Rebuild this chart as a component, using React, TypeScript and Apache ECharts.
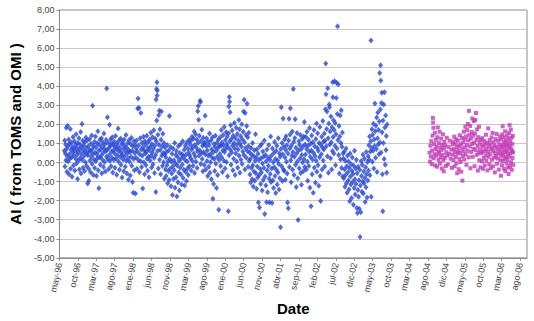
import React, { useEffect, useRef } from "react";
import * as echarts from "echarts";

// x value = days since start of axis (may-96); one label every 150 days
const xLabels = ["may-96","oct-96","mar-97","ago-97","ene-98","jun-98","nov-98","mar-99","ago-99","ene-00","jun-00","nov-00","abr-01","sep-01","feb-02","jul-02","dic-02","may-03","oct-03","mar-04","ago-04","dic-04","may-05","oct-05","mar-06","ago-06"];

const toms1996_98: [number, number][] = [
[40,0.62],[43,1.15],[45,-0.21],[48,0.48],[51,0.95],[53,0.12],[56,1.82],[59,0.71],[61,-0.48],[64,0.33],[67,1.93],[70,0.87],[72,0.05],[75,1.21],[78,-0.62],[80,0.44],[83,0.98],[86,0.21],[89,1.76],[91,-0.33],[94,0.67],[97,1.05],[100,0.28],[103,-0.74],[105,0.81],[108,0.52],[111,1.34],[114,-0.15],[117,0.73],[119,0.36],[122,1.12],[125,-0.42],[128,0.6],[131,0.93],[134,0.18],[136,1.48],[139,-0.05],[142,0.77],[145,0.41],[148,-0.86],[150,1.02],[153,0.57],[156,0.09],[159,1.27],[162,-0.37],[164,0.69],[167,0.95],[170,0.24],[173,1.6],[176,-0.58],[178,0.46],[181,0.82],[184,2.02],[187,0.15],[190,1.14],[192,-0.27],[195,0.63],
[198,0.91],[201,0.34],[204,-0.44],[207,1.08],[210,0.55],[212,0.02],[215,1.31],[218,0.76],[221,-0.18],[224,0.49],[227,1.17],[230,-1.1],[232,0.38],[235,0.85],[238,-0.32],[240,-0.95],[243,0.64],[246,1.23],[249,0.11],[252,0.58],[254,-0.51],[257,0.99],[260,0.3],[263,1.42],[266,-0.08],[268,0.71],[270,2.98],[273,0.45],[276,-0.66],[279,0.88],[282,0.16],[285,1.09],[287,-0.29],[290,0.53],[293,1.36],[296,0.07],[299,0.79],[302,-0.71],[305,0.42],[308,1.01],[310,0.22],[313,1.64],[316,-0.4],[319,0.61],[321,-1.35],[324,0.93],[327,0.27],[330,1.19],[333,-0.12],[336,0.68],[339,0.35],[342,1.28],[345,-0.56],[348,0.84],[350,0.14],[353,1.07],[356,0.5],[359,-0.23],[362,1.52],[365,0.72],[368,0.03],[371,0.96],[374,-0.47],[377,0.59],[380,1.2],[383,0.31],[385,3.88],
[388,0.66],[391,2.38],[394,0.17],[397,1.04],[400,-0.35],[403,0.78],[406,0.4],[408,1.98],[411,0.09],[414,0.87],[417,1.22],[420,-0.19],[423,0.56],[426,0.98],[428,0.25],[431,1.33],[434,-0.52],[437,0.63],[440,0.92],[443,0.14],[446,1.1],[449,0.47],[452,-0.27],[454,0.82],[457,1.39],[460,0.2],[463,0.7],[466,-0.64],[469,1.02],[472,0.38],[475,0.85],[478,1.78],[481,0.06],[484,0.61],[486,1.15],[489,-0.38],[492,0.74],[495,0.29],[498,1.26],[501,-0.11],[504,0.53],[507,0.94],[510,-0.79],[512,0.41],[515,1.07],[518,0.16],[521,0.72],[524,-0.46],[527,1.21],[530,0.33],[533,0.88],[536,-0.22],[539,0.58],[542,1.45],[544,0.1],[547,0.79],[550,-0.57],[553,0.47],[556,1.03],[559,0.23],[562,-0.9],[565,0.66],[568,1.18],[571,0.04],[574,0.55],[577,-0.68],[580,0.97],[583,0.3],[586,1.3],[589,-0.17],[592,0.62],[595,-1.02],[598,0.86],[601,-1.58],[604,0.19],[607,1.11],[610,-0.41],[613,0.5],[616,0.92],[619,-1.62],[622,0.26],[625,0.74],
[628,1.16],[631,-0.33],[634,0.58],[637,2.84],[640,3.36],[642,0.13],[645,0.9],[648,2.86],[651,-0.5],[654,0.44],[657,1.27],[660,0.07],[663,2.6],[666,0.69],[669,-0.24],[672,1.04],[675,0.36],[678,-1.36],[681,0.81],[684,1.35],[687,0.02],[690,0.63],[693,-0.61],[696,1.12],[699,0.48],[702,0.95],[705,-0.14],[708,0.57],[711,1.41],[714,0.2],[717,-0.43],[720,0.76],[723,1.08],[726,0.31],[729,-0.77],[732,0.64],[735,1.21],[738,0.11],[741,0.83],[744,1.56],
[747,0.35],[750,-0.26],[753,0.97],[756,0.52],[759,1.32],[762,-0.09],[765,0.71],[768,1.69],[771,0.24],[774,-0.55],[777,0.88],[780,1.25],[783,0.4],[785,-1.55],[787,3.31],[789,1.1],[790,3.86],[792,2.21],[794,4.21],[795,3.52],[797,3.78],[799,0.61],[802,1.46],[805,-0.31],[808,2.48],[810,0.93],[813,2.71],[815,0.15],[818,1.74],[821,0.66],[824,-0.62],[827,1.19],[830,2.68],[833,0.37],[836,0.85],[839,-0.18],[842,1.51],[845,0.5],[848,0.02],[851,1.03],[854,-0.85],[857,0.43],[860,0.79],[863,-0.36]
];

const toms1999_00: [number, number][] = [
[866,0.28],[869,-0.71],[872,0.55],[875,-0.14],[878,0.92],[881,-1.08],[884,0.07],[887,-0.45],[890,0.63],[893,-0.92],[896,2.44],[899,0.18],[902,-0.33],[905,0.81],[908,-1.25],[911,0.04],[914,-0.58],[917,0.46],[920,-1.7],[923,-0.21],[926,0.72],[929,-0.86],[932,0.12],[935,-0.4],[938,1.02],[941,-1.32],[944,-0.05],[947,0.39],[950,-0.77],[953,0.6],[956,-1.78],[959,-0.16],[962,0.29],[965,-1.04],[968,0.85],[971,-0.52],[974,0.08],[977,-1.46],[980,0.5],[983,-0.27],[986,0.96],[989,-0.63],[992,0.21],[995,-1.15],[998,0.44],[1001,-0.1],[1004,1.12],[1007,-0.81],[1010,0.33],[1013,-0.38],[1016,0.67],[1019,-1.21],[1022,0.15],[1025,0.88],[1028,-0.49],[1031,0.41],[1034,-0.97],[1037,1.05],[1040,0.06],[1043,-0.31],[1046,0.74],[1049,-0.66],[1052,0.52],[1055,1.18],[1058,-0.2],[1061,0.37],[1064,0.95],
[1067,0.23],[1070,1.14],[1073,-0.42],[1076,0.68],[1079,1.35],[1082,0.1],[1085,0.81],[1088,-0.17],[1091,1.26],[1094,0.47],[1097,1.63],[1100,-0.55],[1103,0.92],[1106,0.31],[1109,1.48],[1112,0.04],[1115,0.77],[1118,1.21],[1121,-0.29],[1124,0.59],[1126,2.69],[1129,1.02],[1131,2.96],[1133,2.24],[1136,0.36],[1139,1.41],[1142,0.65],[1145,3.24],[1148,3.18],[1150,-0.08],[1153,1.13],[1156,0.49],[1159,1.72],[1162,0.19],[1165,0.88],[1168,-0.46],[1171,1.3],[1174,0.55],[1177,0.97],[1180,-0.13],[1183,1.05],
[1186,2.45],[1189,0.42],[1192,-0.37],[1195,0.86],[1198,1.27],[1201,0.08],[1204,0.63],[1207,-0.71],[1210,1.09],[1213,0.35],[1216,-0.22],[1219,0.91],[1222,1.52],[1225,-0.53],[1228,0.44],[1231,0.02],[1234,1.16],[1237,-0.88],[1240,0.7],[1243,0.26],[1246,1.33],[1249,-1.9],[1252,0.54],[1255,-1.12],[1258,0.97],[1261,0.18],[1264,-0.44],[1267,0.82],[1270,1.4],[1273,-0.06],[1276,0.61],[1279,-1.33],[1282,1.04],[1285,0.3],[1288,-0.65],[1291,0.76],[1294,1.21],[1297,-2.48],[1300,0.13],[1303,0.89],
[1306,0.45],[1309,1.32],[1312,-0.18],[1315,0.88],[1318,1.71],[1321,0.27],[1324,1.05],[1327,-0.49],[1330,0.63],[1333,1.44],[1336,0.91],[1339,0.1],[1342,1.86],[1345,0.55],[1348,-0.31],[1351,1.18],[1354,0.72],[1357,1.59],[1360,0.03],[1363,0.96],[1366,1.37],[1369,-0.72],[1372,0.81],[1375,-2.55],[1377,1.53],[1379,2.94],[1381,0.38],[1383,3.44],[1385,3.19],[1387,1.12],[1389,2.64],[1391,0.67],[1394,1.95],[1397,-0.12],[1400,1.24],[1403,0.52],[1406,1.68],[1409,0.89],[1412,-0.4],[1415,1.41],[1418,0.2],[1421,1.03],[1424,2.08],[1427,0.74],[1430,-0.65],[1433,1.29],[1436,0.47],[1439,1.82],[1442,0.06],[1445,0.93],[1448,1.5],[1451,-0.27],[1454,0.69],[1457,1.16],[1460,2.23],[1463,0.35],[1466,1.74],[1469,-0.53],[1472,0.98],[1475,1.38],[1478,0.14],[1481,0.84],[1484,2.01],[1487,-0.08],[1490,1.21],[1493,0.58],[1496,1.62],[1499,2.68],[1502,0.39],[1504,3.29],[1507,1.07],[1510,-0.36],[1512,2.6],[1515,0.76],[1518,1.45],[1521,0.25],[1524,1.91],[1527,3.08],[1530,0.61],[1533,1.33],[1536,-0.22],[1539,0.87],[1542,1.56],[1545,0.1]
];

const toms2001_02: [number, number][] = [
[1548,0.52],[1551,-0.63],[1554,0.18],[1557,-1.05],[1560,0.76],[1563,-0.29],[1566,0.41],[1569,-0.88],[1572,1.02],[1575,-0.14],[1578,-1.26],[1581,0.33],[1584,-0.47],[1587,0.65],[1590,-0.95],[1593,0.09],[1596,1.48],[1599,-0.56],[1602,0.27],[1605,-1.38],[1608,0.7],[1611,-0.21],[1614,-0.79],[1617,0.46],[1620,-2.1],[1623,0.12],[1626,-0.66],[1629,-2.36],[1632,0.85],[1635,-0.34],[1638,-1.12],[1641,0.23],[1644,-0.52],[1647,0.97],[1650,-1.47],[1653,-0.05],[1656,0.58],[1659,-0.91],[1662,0.31],[1665,-0.28],[1668,1.15],[1671,-2.7],[1674,-0.73],[1677,0.4],[1680,-1.2],[1683,0.07],[1686,-2.08],[1689,0.69],[1692,-0.42],[1695,-1.56],[1698,0.26],[1701,-0.17],[1704,0.92],[1707,-0.85],[1710,-2.1],[1713,0.15],[1716,-0.6],[1719,1.36],[1722,-1.02],[1725,0.36],[1728,-0.31],[1731,-2.12],[1734,0.74],[1737,-0.94],[1740,0.02],[1743,-1.33],[1746,0.5],[1749,-0.25],[1752,1.08],[1755,-0.7],[1758,0.19],[1761,-1.6],[1764,0.62],[1767,-0.39],[1770,0.88],[1773,-1.15],[1776,0.11],[1779,-0.52],[1782,1.27],[1785,-0.08],[1788,-1.41],[1791,0.47],[1794,-0.83],[1797,0.3],[1800,-3.4],[1803,0.71],[1806,2.9],[1809,-0.2],[1812,1.02],[1815,-0.97],[1818,0.44],[1821,2.31],[1824,-0.36],
[1827,0.83],[1830,-0.44],[1833,1.21],[1836,0.27],[1839,-0.9],[1842,0.66],[1845,1.38],[1848,0.04],[1851,0.91],[1854,-0.57],[1857,-2.1],[1860,0.48],[1863,-2.4],[1866,1.16],[1869,2.29],[1872,-0.23],[1875,0.74],[1878,1.47],[1880,2.85],[1883,0.12],[1886,-1.04],[1889,0.89],[1892,0.36],[1895,1.63],[1898,-0.38],[1901,0.55],[1904,3.86],[1907,1.08],[1910,-0.66],[1913,0.31],[1916,1.29],[1919,2.27],[1922,-0.12],[1925,0.78],[1928,-1.28],[1931,0.47],[1934,1.55],[1937,0.06],[1940,-0.82],[1943,-3.02],[1946,0.63],[1949,1.11],[1952,-0.3],[1955,0.92],[1958,0.21],[1961,1.44],[1964,-0.55],[1967,0.7],[1970,-1.17],[1973,0.39],[1976,1.23],[1979,0.0],[1982,0.84],[1985,-0.46],[1988,1.36],[1991,0.17],[1994,2.12],[1997,-0.24],[2000,0.95],
[2003,0.42],[2006,1.34],[2009,-0.37],[2012,0.71],[2015,1.62],[2018,0.05],[2021,-0.95],[2024,0.88],[2027,1.19],[2030,-0.18],[2033,0.57],[2036,1.81],[2039,-1.32],[2042,0.3],[2045,0.99],[2048,-2.29],[2051,0.63],[2054,1.42],[2057,-0.62],[2060,0.16],[2063,1.07],[2066,-1.58],[2069,0.5],[2072,1.71],[2075,-0.27],[2078,0.85],[2081,0.34],[2084,-1.06],[2087,1.24],[2090,0.09],[2093,2.05],[2096,-0.48],[2099,0.76],[2102,1.53],[2105,-0.14],[2108,0.62],[2111,-1.22],[2114,1.02],[2117,0.28],[2120,1.86],[2123,-0.71],[2126,-2.02],[2129,0.93],[2132,0.44],[2135,1.35],[2138,-0.36],[2141,0.79],[2144,2.18],[2147,0.11],[2150,1.09],
[2153,0.68],[2156,1.52],[2159,-0.21],[2162,1.14],[2165,2.79],[2168,5.19],[2170,3.58],[2172,0.86],[2175,1.76],[2178,2.68],[2181,0.33],[2184,3.9],[2187,1.28],[2190,-0.54],[2193,2.05],[2196,3.04],[2198,2.9],[2201,0.95],[2204,1.63],[2207,0.22],[2210,2.41],[2213,1.07],[2216,-0.36],[2219,1.85],[2222,0.61],[2224,4.21],[2226,3.42],[2228,1.34],[2231,2.22],[2234,0.47],[2237,1.71],[2240,4.26],[2242,0.88],[2245,2.08],[2248,-0.14],[2251,1.49],[2254,3.38],[2256,4.19],[2259,0.73],[2262,2.55],[2264,7.15],[2267,1.18],[2270,4.1],[2273,0.4],[2276,1.92],[2279,-0.58],[2282,1.36],[2285,2.47],[2288,0.16],[2291,1.02],[2294,2.74],[2297,-0.29],[2300,0.83],[2303,1.57],[2306,-0.73],[2309,0.48]
];

const toms2003: [number, number][] = [
[2312,0.21],[2315,-0.82],[2318,0.57],[2321,-0.35],[2324,-1.27],[2327,0.1],[2330,-0.66],[2333,0.74],[2336,-1.09],[2339,-0.2],[2342,-1.58],[2345,0.36],[2348,-0.51],[2351,-0.94],[2354,0.05],[2357,-1.41],[2360,-0.28],[2363,-2.03],[2366,0.48],[2369,-0.73],[2372,-1.15],[2375,-0.09],[2378,-1.86],[2381,-0.44],[2384,0.27],[2387,-1.02],[2390,-0.6],[2393,-2.21],[2396,-0.17],[2399,-1.34],[2402,0.62],[2405,-0.87],[2408,-1.68],[2411,-0.31],[2414,-1.12],[2417,0.14],[2420,-2.38],[2423,-0.56],[2426,-2.65],[2429,-1.44],[2432,-0.22],[2435,-1.79],[2438,-0.93],[2441,-2.42],[2444,-0.38],[2447,-3.9],[2450,-1.21],[2453,-2.61],[2456,0.08],[2459,-0.7],[2462,-1.53],[2465,-0.12],[2468,-0.99],[2471,0.41],[2474,-1.62],[2477,-0.47],[2480,-1.08],[2483,0.2],[2486,-0.81],[2489,-2.07],[2492,-0.25],[2495,-1.3],[2498,0.55],[2501,-0.62],[2504,-1.83],[2507,0.03],[2510,-0.94],
[2513,0.33],[2516,-0.42],[2519,0.91],[2522,0.15],[2525,1.37],[2528,-0.67],[2531,0.58],[2534,1.12],[2536,6.4],[2538,-1.8],[2541,0.76],[2544,1.75],[2547,0.04],[2550,1.46],[2553,0.62],[2556,2.03],[2559,-0.31],[2562,1.21],[2565,0.87],[2568,3.1],[2571,1.64],[2574,0.25],[2577,1.93],[2580,0.71],[2583,2.36],[2586,-0.5],[2589,1.28],[2592,2.62],[2595,0.95],[2598,1.71],[2601,0.43],[2604,2.15],[2607,4.7],[2609,1.05],[2612,2.78],[2614,5.1],[2616,4.3],[2618,0.52],[2621,3.12],[2624,3.66],[2626,1.59],[2629,-0.61],[2632,-2.55],[2634,2.21],[2637,1.02],[2640,3.05],[2643,0.18],[2646,3.68],[2649,1.84],[2652,-0.12],[2655,2.47],[2658,0.66],[2661,1.39],[2664,-0.54],[2667,2.0]
];

const omi2004_06: [number, number][] = [
[3013,0.52],[3017,0.05],[3020,0.88],[3024,0.31],[3027,1.12],[3031,-0.08],[3034,0.63],[3037,1.41],[3040,2.34],[3042,2.1],[3044,1.82],[3047,0.22],[3050,0.97],[3053,0.44],[3056,1.56],[3059,-0.15],[3062,0.71],[3065,1.19],[3068,0.36],[3071,0.84],[3074,-0.22],[3077,1.33],[3080,1.84],[3083,0.58],[3086,0.14],[3089,1.02],[3092,0.47],[3095,1.61],[3098,-0.05],[3101,0.79],[3104,0.28],[3107,1.25],[3110,0.66],[3113,-0.31],[3116,0.93],[3119,0.4],[3122,1.48],[3125,0.12],[3128,-0.46],[3131,0.75],[3134,1.08],[3137,0.25],[3141,0.9],[3145,-0.18],[3149,0.54],[3153,1.3],[3157,0.37],[3162,-0.1],[3167,0.82],[3172,0.46],[3178,1.15],[3184,0.2],[3190,0.68],[3195,-0.28],[3199,0.95],
[3202,0.41],[3205,1.07],[3208,0.13],[3211,0.7],[3214,1.36],[3217,-0.2],[3220,0.55],[3223,0.98],[3226,0.29],[3229,1.22],[3232,-0.04],[3235,0.81],[3238,-0.56],[3241,0.47],[3244,1.15],[3247,0.62],[3250,-0.35],[3253,0.88],[3256,0.19],[3259,1.43],[3262,0.5],[3265,0.03],[3268,0.96],[3271,-0.48],[3274,0.74],[3277,1.29],[3280,-0.95],[3283,0.35],[3286,1.05],[3289,0.58],[3292,1.62],[3295,0.16],[3298,1.21],[3301,0.79],[3304,1.88],[3307,0.42],[3310,1.37],[3313,-0.12],[3316,0.93],[3319,1.7],[3322,0.61],[3325,2.02],[3328,1.16],[3331,0.27],[3334,2.71],[3337,1.45],[3340,0.84],[3343,1.92],[3346,-0.3],[3349,1.25],[3352,0.56],[3355,1.6],[3358,0.98],[3361,2.31],[3364,0.3],[3367,1.41],[3370,0.72],[3373,2.18],[3376,1.03],[3379,-0.19],[3382,1.52],[3385,2.23],[3388,0.66],[3391,2.6],[3394,1.19],[3397,0.4],[3400,1.74],[3403,0.87],[3406,-0.42],[3409,1.33],[3412,0.51],[3415,1.88],[3418,0.12],[3421,1.06],[3424,0.69],[3427,-0.25],[3430,1.2],
[3433,0.48],[3436,0.91],[3439,0.06],[3442,1.28],[3445,0.57],[3448,-0.33],[3451,0.83],[3454,0.24],[3457,1.12],[3460,0.61],[3463,-0.15],[3466,0.95],[3469,0.37],[3472,1.46],[3475,0.09],[3478,0.72],[3481,1.04],[3484,-0.41],[3487,0.55],[3490,1.79],[3493,0.3],[3496,0.86],[3499,-0.08],[3502,1.18],[3505,0.44],[3508,0.99],[3511,-0.29],[3514,0.68],[3517,1.32],[3520,0.15],[3523,0.77],[3526,1.55],[3529,-0.2],[3532,0.6],[3535,1.07],[3538,0.26],[3541,0.89],[3544,-0.52],[3547,0.5],[3550,1.23],[3553,0.34],[3556,0.81],[3559,1.5],[3562,-0.06],[3565,0.7],[3568,0.21],[3571,1.14],[3574,0.46],[3577,-0.37],[3580,0.93],[3583,0.58],[3586,1.36],[3589,0.12],
[3592,0.74],[3594,-0.69],[3596,1.21],[3598,0.35],[3600,0.86],[3602,-0.14],[3604,1.47],[3606,0.52],[3608,1.9],[3610,0.09],[3612,0.96],[3614,0.41],[3616,1.33],[3618,-0.33],[3620,0.67],[3622,1.08],[3624,0.2],[3626,0.83],[3628,1.64],[3630,-0.45],[3632,0.55],[3634,1.17],[3636,0.28],[3638,0.91],[3640,-0.05],[3642,1.42],[3644,0.63],[3646,0.14],[3648,1.02],[3650,0.45],[3652,-0.27],[3654,1.26],[3656,-0.6],[3658,0.78],[3660,1.55],[3662,0.31],[3664,1.96],[3666,0.88],[3668,-0.18],[3670,1.11],[3672,0.49],[3674,1.73],[3676,0.02],[3678,0.71],[3680,1.3],[3682,-0.38],[3684,0.6],[3686,0.97],[3688,0.24],[3690,1.4],[3692,0.53],[3694,-0.12]
];

const DAYS_PER_LABEL = 150;
const X_MAX = 3806;

export default function App() {
  const ref = useRef<HTMLDivElement>(null);
  useEffect(() => {
    document.body.style.margin = "0";
    if (!ref.current) return;
    const chart = echarts.init(ref.current, null, { renderer: "svg" });
    const font = "'Liberation Sans', Arial, sans-serif";
    const tomsAll = [...toms1996_98, ...toms1999_00, ...toms2001_02, ...toms2003];
    chart.setOption({
      animation: false,
      backgroundColor: "#ffffff",
      grid: { left: 52, top: 10, right: 7, bottom: 54, show: true, borderColor: "#8c8c8c", borderWidth: 1, backgroundColor: "transparent" },
      xAxis: {
        type: "value",
        min: 0,
        max: X_MAX,
        interval: DAYS_PER_LABEL,
        name: "Date",
        nameLocation: "middle",
        nameGap: 41,
        nameTextStyle: { fontFamily: font, fontSize: 15, fontWeight: "bold", color: "#000" },
        axisLine: { show: true, onZero: false, lineStyle: { color: "#8c8c8c", width: 1 } },
        axisTick: { show: true, length: 3, lineStyle: { color: "#8c8c8c" } },
        splitLine: { show: false },
        axisLabel: {
          rotate: 78,
          fontFamily: font,
          fontSize: 9,
          color: "#444",
          margin: 5,
          showMaxLabel: false,
          formatter: (v: number) => {
            const i = Math.round(v / DAYS_PER_LABEL);
            if (Math.abs(v - i * DAYS_PER_LABEL) > 0.5) return "";
            return xLabels[i] ?? "";
          },
        },
      },
      yAxis: {
        type: "value",
        min: -5,
        max: 8,
        interval: 1,
        name: "AI ( from TOMS and OMI )",
        nameLocation: "middle",
        nameGap: 36,
        nameTextStyle: { fontFamily: font, fontSize: 15, fontWeight: "bold", color: "#000" },
        axisLine: { show: true, onZero: false, lineStyle: { color: "#8c8c8c", width: 1 } },
        axisTick: { show: true, length: 3, lineStyle: { color: "#8c8c8c" } },
        splitLine: { show: true, lineStyle: { color: "#c8c8c8", width: 1 } },
        axisLabel: {
          fontFamily: font,
          fontSize: 9,
          color: "#444",
          margin: 5,
          formatter: (v: number) => v.toFixed(2).replace(".", ","),
        },
      },
      series: [
        {
          name: "TOMS",
          type: "scatter",
          data: tomsAll,
          symbol: "diamond",
          symbolSize: [5, 6],
          itemStyle: { color: "#2646d2" },
        },
        {
          name: "OMI",
          type: "scatter",
          data: omi2004_06,
          symbol: "rect",
          symbolSize: 4,
          itemStyle: { color: "#c23cb6" },
        },
      ],
    });
    return () => chart.dispose();
  }, []);
  return <div ref={ref} style={{ width: 534, height: 321, position: "absolute", left: 0, top: 0 }} />;
}
